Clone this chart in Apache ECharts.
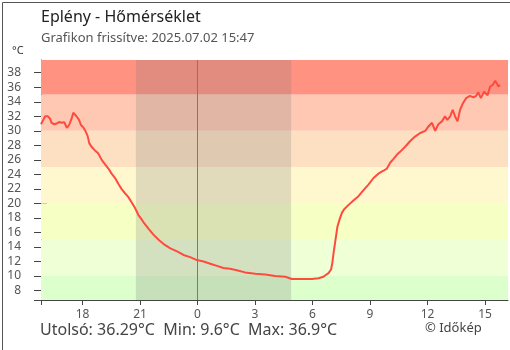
<!DOCTYPE html>
<html>
<head>
<meta charset="utf-8">
<script src="https://cdn.jsdelivr.net/npm/echarts@6/dist/echarts.min.js"></script>
<style>
  html, body { margin: 0; padding: 0; background: #fff; }
  #chart { width: 510px; height: 350px; }
</style>
</head>
<body>
<div id="chart"></div>
<script>
// percek 2025.07.01 15:50 óta
const minutes = [0, 7, 13, 21, 28, 33, 42, 49, 56, 65, 73, 77, 81, 88, 91, 96, 101, 106, 111, 119, 125, 132, 140, 146, 151, 158, 169, 179, 190, 200, 211, 221, 232, 242, 252, 263, 273, 286, 294, 305, 315, 321, 337, 352, 368, 384, 405, 426, 446, 467, 488, 509, 530, 551, 571, 592, 613, 639, 671, 702, 733, 765, 785, 806, 827, 848, 869, 884, 900, 908, 912, 916, 921, 928, 934, 942, 949, 963, 978, 994, 1009, 1025, 1041, 1056, 1072, 1083, 1093, 1103, 1114, 1124, 1140, 1156, 1171, 1187, 1203, 1213, 1224, 1234, 1244, 1255, 1265, 1272, 1281, 1289, 1296, 1304, 1312, 1321, 1331, 1343, 1354, 1362, 1369, 1377, 1387, 1398, 1406, 1414, 1422, 1427, 1432, 1437];
const temps = [30.9, 31.5, 32.0, 32.0, 31.7, 31.1, 30.9, 31.0, 31.2, 31.1, 31.2, 30.8, 30.4, 30.8, 30.6, 31.7, 32.5, 32.4, 32.0, 31.5, 30.8, 30.5, 29.9, 29.3, 28.3, 27.8, 27.3, 26.9, 26.0, 25.4, 24.8, 24.1, 23.5, 22.7, 22.0, 21.4, 20.9, 20.0, 19.4, 18.4, 17.8, 17.4, 16.5, 15.7, 15.0, 14.4, 13.8, 13.4, 12.9, 12.6, 12.2, 12.0, 11.7, 11.4, 11.1, 11.0, 10.8, 10.5, 10.3, 10.2, 10.0, 9.9, 9.6, 9.6, 9.6, 9.6, 9.7, 9.9, 10.4, 10.9, 11.8, 13.2, 14.7, 16.8, 17.7, 18.7, 19.2, 19.8, 20.4, 21.0, 21.8, 22.6, 23.5, 24.1, 24.5, 24.8, 25.6, 26.1, 26.7, 27.1, 27.8, 28.6, 29.2, 29.7, 30.0, 30.6, 31.1, 30.0, 30.9, 31.3, 32.0, 31.5, 32.0, 32.9, 32.0, 31.3, 32.9, 33.8, 34.5, 34.8, 34.6, 34.8, 35.3, 34.5, 35.4, 34.9, 36.1, 36.3, 36.9, 36.5, 36.1, 36.3];

const yTicks = [8, 10, 12, 14, 16, 18, 20, 22, 24, 26, 28, 30, 32, 34, 36, 38];
const xTicks = [130, 310, 490, 670, 850, 1030, 1210, 1390]; // 18, 21, 0, 3 ... 15 óra
const startHour = 15 + 50 / 60;
const bandLimits = [6.7, 10, 15, 20, 25, 30, 35, 39.75];
const bandColors = ['#ddffcc', '#efffd6', '#f6ffc4', '#fff8cf', '#fde0c2', '#ffc8b2', '#ff9281'];
const night = [297, 783]; // napnyugta 20:47 - napkelte 04:53
const midnight = 490;

const stats = { last: '36.29', min: '9.6', max: '36.9' };

const font = 'Noto Sans';
const chart = echarts.init(document.getElementById('chart'));

const bands = bandColors.map((c, i) => [
  { yAxis: bandLimits[i], itemStyle: { color: c } },
  { yAxis: bandLimits[i + 1] },
]);

const xMin = 0, xMax = 1462, yMin = 6.7, yMax = 39.75;
const hourLabel = (v) => String(Math.round((startHour + v / 60) % 24));

chart.setOption({
  animation: false,
  grid: { left: 41, right: 2, top: 60, bottom: 50 },
  xAxis: [
    {
      type: 'value', min: xMin, max: xMax,
      axisLine: { lineStyle: { color: '#444' } },
      axisTick: { show: true, length: 5, customValues: [0].concat(xTicks), lineStyle: { color: '#444' } },
      axisLabel: { customValues: xTicks, formatter: hourLabel, color: '#555', fontSize: 12, fontFamily: font, margin: 9 },
      splitLine: { show: false },
    },
    {
      type: 'value', min: xMin, max: xMax, position: 'bottom',
      axisLine: { show: false },
      axisTick: { show: true, inside: true, length: 6, customValues: xTicks, lineStyle: { color: '#444' } },
      axisLabel: { show: false },
      splitLine: { show: false },
    },
  ],
  yAxis: [
    {
      type: 'value', min: yMin, max: yMax,
      axisLine: { show: true, lineStyle: { color: '#444' } },
      axisTick: { show: true, length: 7, customValues: [yMin].concat(yTicks), lineStyle: { color: '#444' } },
      axisLabel: { customValues: yTicks, color: '#555', fontSize: 12, fontFamily: font, margin: 20 },
      splitLine: { show: false },
    },
    {
      type: 'value', min: yMin, max: yMax, position: 'left',
      axisLine: { show: false },
      axisTick: { show: true, inside: true, length: 6, customValues: yTicks, lineStyle: { color: '#444' } },
      axisLabel: { show: false },
      splitLine: { show: false },
    },
  ],
  graphic: [
    { type: 'text', left: 41, top: 9, style: { text: 'Eplény - Hőmérséklet', font: '16px "Noto Sans"', fill: '#222' } },
    { type: 'text', left: 41, top: 32, style: { text: 'Grafikon frissítve: 2025.07.02 15:47', font: '13px "Noto Sans"', fill: '#555' } },
    { type: 'text', left: 12, top: 45, style: { text: '°C', font: '11px "Noto Sans"', fill: '#333' } },
    { type: 'text', left: 40, top: 322, style: { text: 'Utolsó: ' + stats.last + '°C  Min: ' + stats.min + '°C  Max: ' + stats.max + '°C', font: '16px "Noto Sans"', fill: '#444' } },
    { type: 'text', left: 425, top: 322, style: { text: '© Időkép', font: '13px "Noto Sans"', fill: '#444' } },
    { type: 'rect', left: 0, top: 0, shape: { x: 0.5, y: 0.5, width: 509, height: 349 }, style: { fill: 'none', stroke: '#555', lineWidth: 1 }, silent: true, z: 100 },
  ],
  series: [
    {
      type: 'line', data: [], silent: true, z: 1,
      markArea: { silent: true, data: bands },
    },
    {
      type: 'line', data: [], silent: true, z: 2,
      markArea: {
        silent: true,
        itemStyle: { color: 'rgba(120,120,120,0.22)' },
        data: [[{ xAxis: night[0] }, { xAxis: night[1] }]],
      },
      markLine: {
        silent: true, symbol: 'none', label: { show: false },
        lineStyle: { color: '#3a8cc6', width: 1, type: 'solid' },
        data: [{ xAxis: midnight }],
      },
    },
    {
      type: 'line', z: 5,
      data: minutes.map((m, i) => [m, temps[i]]),
      showSymbol: false,
      lineStyle: { color: '#ff4b3e', width: 2 },
    },
  ],
});
</script>
</body>
</html>
